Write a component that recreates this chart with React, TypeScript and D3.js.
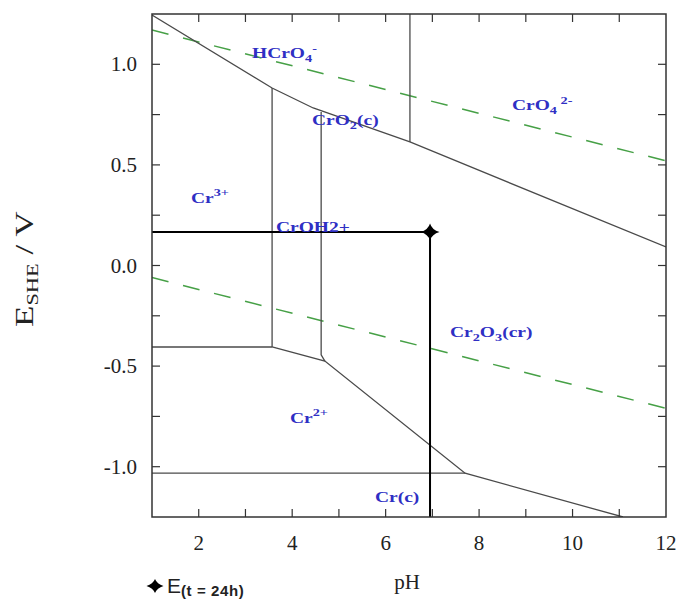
import React from "react";
import * as d3 from "d3";

// pH / E(SHE) for Cr
const upperBoundary: [number, number][] = [
  [1, 1.245],
  [3.57, 0.882],
  [4.45, 0.783],
  [6.52, 0.614],
  [12, 0.092],
];
const lowerBoundary: [number, number][] = [
  [3.57, -0.405],
  [4.7, -0.475],
  [7.7, -1.032],
  [11.08, -1.25],
];
const cr3Cr2Line: [number, number][] = [
  [1, -0.405],
  [3.57, -0.405],
];
const cr2CrLine: [number, number][] = [
  [1, -1.032],
  [7.7, -1.032],
];
const cr3CrOHLine: [number, number][] = [
  [3.57, 0.882],
  [3.57, -0.405],
];
const crOHCrO2Line: [number, number][] = [
  [4.62, 0.763],
  [4.62, -0.444],
  [4.7, -0.475],
];
const hcro4Cro4Line: [number, number][] = [
  [6.52, 1.25],
  [6.52, 0.614],
];
const oxygenLine: [number, number][] = [
  [1, 1.17],
  [12, 0.52],
];
const hydrogenLine: [number, number][] = [
  [1, -0.06],
  [12, -0.71],
];
const measured = { pH: 6.95, E: 0.166 };

const xTicks = [2, 3, 4, 5, 6, 7, 8, 9, 10, 11];
const xLabels = [2, 4, 6, 8, 10, 12];
const yTicks = [-1.0, -0.75, -0.5, -0.25, 0, 0.25, 0.5, 0.75, 1.0];
const yLabels = [-1.0, -0.5, 0.0, 0.5, 1.0];

const width = 686;
const height = 599;
const left = 152;
const right = 666;
const top = 14;
const bottom = 517;

const x = d3.scaleLinear().domain([1, 12]).range([left, right]);
const y = d3.scaleLinear().domain([-1.25, 1.25]).range([bottom, top]);
const line = d3
  .line<[number, number]>()
  .x((d) => x(d[0]))
  .y((d) => y(d[1]));

const serif = "'Liberation Serif', 'Times New Roman', serif";
const blue = "#2f2fc4";
const grey = "#4a4a4a";
const green = "#46a046";
const ink = "#222";

const diamond = (cx: number, cy: number, w: number, h: number) =>
  `M${cx - w / 2},${cy}Q${cx - 2},${cy - 2} ${cx},${cy - h / 2}Q${cx + 2},${cy - 2} ${cx + w / 2},${cy}Q${cx + 2},${cy + 2} ${cx},${cy + h / 2}Q${cx - 2},${cy + 2} ${cx - w / 2},${cy}Z`;

const Label = ({ px, py, children }: { px: number; py: number; children: React.ReactNode }) => (
  <text
    transform={`translate(${px},${py}) scale(1.3,1)`}
    fontFamily={serif}
    fontWeight="bold"
    fontSize={15}
    fill={blue}
  >
    {children}
  </text>
);

const sub = (s: string) => (
  <tspan fontSize={11} dy={4}>
    {s}
  </tspan>
);

export default function App() {
  const boundaries = [
    upperBoundary,
    lowerBoundary,
    cr3Cr2Line,
    cr2CrLine,
    cr3CrOHLine,
    crOHCrO2Line,
    hcro4Cro4Line,
  ];
  const mx = x(measured.pH);
  const my = y(measured.E);
  return (
    <svg
      width={width}
      height={height}
      style={{ position: "absolute", left: 0, top: 0, background: "#fff" }}
    >
      <defs>
        <clipPath id="plot">
          <rect x={left} y={top} width={right - left} height={bottom - top} />
        </clipPath>
      </defs>
      <g clipPath="url(#plot)">
        {[oxygenLine, hydrogenLine].map((d, i) => (
          <path
            key={"w" + i}
            d={line(d) || ""}
            fill="none"
            stroke={green}
            strokeWidth={1.5}
            strokeDasharray="17,15"
          />
        ))}
        {boundaries.map((d, i) => (
          <path key={"b" + i} d={line(d) || ""} fill="none" stroke={grey} strokeWidth={1.3} />
        ))}
        <path
          d={`M${left},${my}H${mx}V${bottom}`}
          fill="none"
          stroke="#000"
          strokeWidth={2}
        />
        <path d={diamond(mx, my, 19, 17)} fill="#000" />
      </g>

      {/* frame + inward ticks on all sides */}
      <rect
        x={left}
        y={top}
        width={right - left}
        height={bottom - top}
        fill="none"
        stroke="#333"
        strokeWidth={1.5}
      />
      {xTicks.map((t) => (
        <g key={"xt" + t} stroke="#333" strokeWidth={1.2}>
          <line x1={x(t)} x2={x(t)} y1={bottom} y2={bottom - 8} />
          <line x1={x(t)} x2={x(t)} y1={top} y2={top + 8} />
        </g>
      ))}
      {yTicks.map((t) => (
        <g key={"yt" + t} stroke="#333" strokeWidth={1.2}>
          <line x1={left} x2={left + 8} y1={y(t)} y2={y(t)} />
          <line x1={right} x2={right - 8} y1={y(t)} y2={y(t)} />
        </g>
      ))}
      {xLabels.map((t) => (
        <text
          key={"xl" + t}
          x={x(t)}
          y={550}
          textAnchor="middle"
          fontFamily={serif}
          fontSize={21}
          fill={ink}
        >
          {t}
        </text>
      ))}
      {yLabels.map((t) => (
        <text
          key={"yl" + t}
          x={137}
          y={y(t) + 7}
          textAnchor="end"
          fontFamily={serif}
          fontSize={21}
          fill={ink}
        >
          {t.toFixed(1)}
        </text>
      ))}
      <text x={407} y={589} textAnchor="middle" fontFamily={serif} fontSize={21} fill={ink}>
        pH
      </text>
      <text
        transform="translate(33,327) rotate(-90) scale(1.4,1)"
        fontFamily={serif}
        fontSize={25}
        fill={ink}
      >
        E
        <tspan fontSize={16} dy={5}>
          SHE
        </tspan>
        <tspan dy={-5}> / V</tspan>
      </text>

      {/* region labels */}
      <Label px={252} py={58}>
        HCrO{sub("4")}
        <tspan fontSize={11} dy={-10}>
          -
        </tspan>
      </Label>
      <Label px={512} py={110}>
        CrO{sub("4")}
        <tspan fontSize={11} dy={-10}>
          {" 2-"}
        </tspan>
      </Label>
      <Label px={312} py={125}>
        CrO{sub("2")}
        <tspan dy={-4}>(c)</tspan>
      </Label>
      <Label px={191} py={203}>
        Cr
        <tspan fontSize={11} dy={-7}>
          3+
        </tspan>
      </Label>
      <Label px={276} py={232}>
        CrOH2+
      </Label>
      <Label px={450} py={337}>
        Cr{sub("2")}
        <tspan dy={-4}>O</tspan>
        {sub("3")}
        <tspan dy={-4}>(cr)</tspan>
      </Label>
      <Label px={290} py={423}>
        Cr
        <tspan fontSize={11} dy={-7}>
          2+
        </tspan>
      </Label>
      <Label px={375} py={502}>
        Cr(c)
      </Label>

      {/* legend */}
      <path d={diamond(155, 586, 17, 14)} fill="#000" />
      <text x={167} y={593} fontFamily="'Liberation Sans', Arial, sans-serif" fontSize={21} fill={ink}>
        E
        <tspan fontSize={15} fontWeight="bold" dy={3} letterSpacing={0.6}>
          (t = 24h)
        </tspan>
      </text>
    </svg>
  );
}
